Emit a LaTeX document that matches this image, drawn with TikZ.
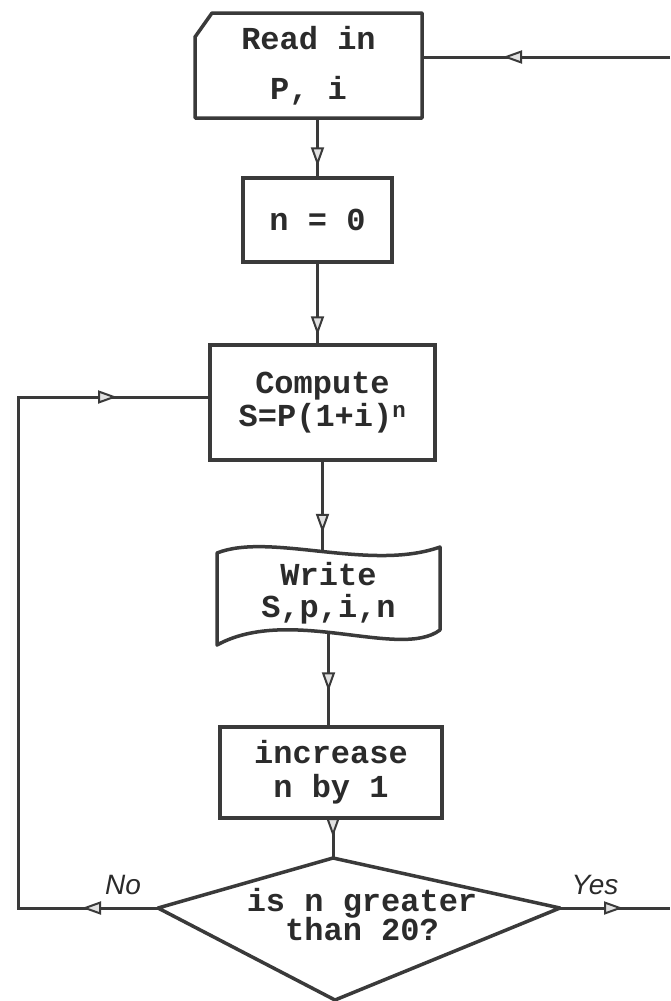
\documentclass[tikz,border=0pt]{standalone}
\usepackage{fontspec}
\setmonofont{Liberation Mono}
\setsansfont{Liberation Sans}
\usepackage{xcolor}
\usetikzlibrary{arrows.meta,positioning,decorations.markings}
\definecolor{ink}{HTML}{3A3A3A}
\definecolor{inktext}{HTML}{2B2B2B}

\begin{document}
\begin{tikzpicture}[
 x=1pt,y=-1pt,
 font=\ttfamily\bfseries\fontsize{32}{32}\selectfont,
 text=inktext,
 box/.style={draw=ink,line width=3.5pt,minimum width=#1,align=center,inner sep=0pt},
 plain/.style={minimum width=#1,align=center,inner sep=0pt},
 shp/.style={draw=ink,line width=3.5pt,line join=round},
 lbl/.style={font=\sffamily\itshape\fontsize{28}{28}\selectfont,text=inktext},
 line/.style={draw=ink,line width=3pt},
 midarr/.style={postaction={decorate,decoration={markings,mark=at position #1 with {\arrow{Triangle[open,length=19pt,width=13pt,line width=2pt,fill=ink!15]}}}}}
]
\useasboundingbox (0,0) rectangle (670,1001);
\fill[white] (0,0) rectangle (670,1001);

% boxes
\node[plain=227pt,minimum height=105pt] (readin) at (308.5,65.5) {Read in\\[18pt]P, i};
\draw[shp] (212,13) -- (422,13) -- (422,118) -- (195,118) -- (195,37) -- cycle;
\node[box=149pt,minimum height=84pt] (nzero) at (317.5,220) {n = 0};
\node[box=225pt,minimum height=115pt] (compute) at (322.5,402.5) {Compute\\[1pt]S=P(1+i)\textsuperscript{n}};
\node[plain=223pt,minimum height=82pt] (write) at (328.5,593) {Write\\S,p,i,n};
\draw[shp] (217,553) .. controls (270,532) and (370,572) .. (440,547) -- (440,630)
  .. controls (400,660) and (290,605) .. (217,645) -- cycle;
\node[box=222pt,minimum height=91pt] (incr) at (331,772.5) {increase\\[2pt]n by 1};

% decision
\coordinate (dtop) at (333,858);
\coordinate (dright) at (560,908);
\coordinate (dbot) at (335,1000);
\coordinate (dleft) at (158,908);
\draw[shp] (dtop) -- (dright) -- (dbot) -- (dleft) -- cycle;
\node[align=center,inner sep=0pt] (test) at (362,915) {is n greater\\[-3pt]than 20?};
\node[lbl] (no) at (123,885) {No};
\node[lbl] (yes) at (595,885) {Yes};

% connectors
\coordinate (inR) at (670,57);
\coordinate (outR) at (670,908);
\coordinate (cornerL) at (18,908);
\coordinate (cornerT) at (18,397);
\draw[line,midarr=167pt] (inR) -- (inR -| readin.east);
\draw[line,midarr=-10pt] (nzero.north |- readin.south) -- (nzero.north);
\draw[line,midarr=-8pt] (nzero.south) -- (nzero.south |- compute.north);
\draw[line,midarr=-19pt] (compute.south) -- (compute.south |- write.north);
\draw[line,midarr=-34pt] (write.south) -- (write.south |- incr.north);
\draw[line,midarr=-21pt] (incr.south -| dtop) -- (dtop);
\draw[line,midarr=76pt,midarr=750pt] (dleft) -- (cornerL) -- (cornerT) -- (cornerT -| compute.west);
\draw[line,midarr=63pt] (dright) -- (outR);
\end{tikzpicture}
\end{document}
